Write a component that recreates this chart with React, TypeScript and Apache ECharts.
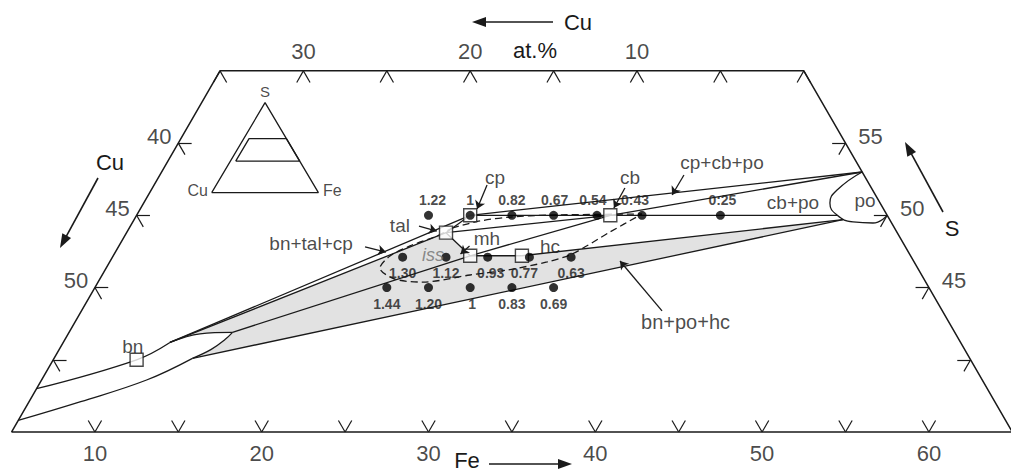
import React, { useEffect, useRef } from "react";
import * as echarts from "echarts";

const INK = "#1a1a1a";
const GRAY = "#e2e2e2";
const FONT = "'Liberation Sans', Arial, Helvetica, sans-serif";

// All compositions are [Fe at.%, S at.%]  (Cu = 100 - Fe - S)
const frame = [[5, 35], [5, 60], [40, 60], [65, 35], [5, 35]];

const phaseNames = ["bn", "tal", "cp", "mh", "hc", "cb"];
const phaseFe = [10, 24.15, 25, 26.4, 29.5, 33.4];
const phaseS = [40, 48.8, 50, 47.2, 47.2, 50];

const row1Fe = [22.5, 25, 27.5, 30, 32.6, 35.3, 40];
const row1S = 50;
const row1Labels = ["1.22", "1", "0.82", "0.67", "0.54", "0:43", "0:25"];
const row1Dx = [4, 0, 0, 1, -4, -7, 2];
const row2Fe = [22.4, 25, 27.5, 30, 32.5];
const row2S = 47.1;
const row2Labels = ["1.30", "1.12", "0.93", "0.77", "0.63"];
const row2Dx = [0, 0, 3, -5, 0];
const row3Fe = [22.5, 25, 27.5, 30, 32.5];
const row3S = 45;
const row3Labels = ["1.44", "1.20", "1", "0.83", "0.69"];
const row3Dx = [0, 0, 2, 0, 0];

const bottomFeLabels = [10, 20, 30, 40, 50, 60];
const topCuLabels = [30, 20, 10];
const leftCuLabels = [40, 45, 50];
const rightSLabels = [55, 50, 45];
const bottomTickFe = [10, 15, 20, 25, 30, 35, 40, 45, 50, 55, 60];
const topTickCu = [35, 30, 25, 20, 15, 10, 5, 0];
const leftTickCu = [40, 45, 50, 55];
const rightTickS = [55, 50, 45, 40];
const TICK = 0.8;

// key construction points
const ptA = [11.4, 41.2];
const lensTip = [14.8, 41.9];
const lensLow = [13.3, 40.1];
const poTop = [47, 53];
const poLow = [47.5, 49.7];
const row1End = [47, 50];

const bnUpper = [[5, 38.0], [10, 40], [11.4, 41.2]];
const lowerCurve = [[5, 35.8], [8.1, 37.1], [11.3, 38.6], [13.3, 40.1]];
const lensRight = [[13.3, 40.1], [14.1, 40.7], [14.6, 41.4], [14.8, 41.9]];
const lensTop = [[11.4, 41.2], [12.9, 41.8], [14.8, 41.9]];
const poLoop = [[47, 53], [46.12, 51.75], [46.14, 50.85], [46.98, 50.02], [48.18, 49.54], [49.41, 49.47], [50, 50]];
const issLoop = [
  [24.35, 49.12], [25.79, 49.61], [27.45, 49.88], [29.77, 50.02], [35.25, 50.09],
  [33.96, 48.85], [32.44, 47.32], [31.22, 46.77], [29.1, 46.21], [27.06, 45.87],
  [24.48, 45.38], [22.69, 45.59], [21.41, 46.35], [21.6, 47.18], [22.45, 47.88],
  [23.73, 48.57], [24.35, 49.12],
];

const annText = ["bn", "tal", "cp", "mh", "hc", "cb", "iss", "bn+tal+cp", "cp+cb+po", "cb+po", "po", "bn+po+hc"];
const annFe = [9.3, 21.12, 25.16, 26.79, 30.88, 33.25, 24.15, 16.42, 38.25, 43.89, 48.14, 41.6];
const annS = [40.95, 49.33, 52.65, 48.43, 47.81, 52.65, 47.25, 48.08, 53.69, 50.92, 51.06, 42.62];

const arrowFrom = [[24.96, 52.1], [33.33, 51.89], [22.3, 49.26], [26.02, 47.88], [19.79, 47.81], [36.42, 52.79], [39.81, 43.38]];
const arrowTo = [[25.19, 50.44], [33.36, 50.51], [23.54, 48.91], [25.76, 47.32], [21.22, 47.46], [36.4, 51.41], [35.56, 46.84]];

// ternary -> cartesian (equilateral): x = Fe + S/2, y = S
const P = (p: number[]) => [p[0] + p[1] / 2, p[1]];

function App() {
  const ref = useRef<HTMLDivElement>(null);
  useEffect(() => {
    if (!ref.current) return;
    const chart = echarts.init(ref.current, undefined, { renderer: "svg" });
    const ph = (name: string) => {
      const i = phaseNames.indexOf(name);
      return [phaseFe[i], phaseS[i]];
    };
    const bn = ph("bn"), tal = ph("tal"), cp = ph("cp"), mh = ph("mh"), hc = ph("hc"), cb = ph("cb");

    const lineSeries = (pts: number[][], opt: any = {}) => ({
      type: "line",
      xAxisIndex: opt.grid || 0,
      yAxisIndex: opt.grid || 0,
      data: pts.map(P),
      showSymbol: false,
      symbol: "none",
      smooth: opt.smooth || false,
      lineStyle: { color: INK, width: opt.width || 1.3, type: opt.type || "solid" },
      z: 3,
      silent: true,
      clip: false,
    });

    const ties = [
      [ptA, tal], [ptA, cp], [tal, cp], [tal, cb], [tal, mh], [mh, hc], [mh, cb],
      [lensTip, mh], [hc, poLow], [lensLow, poLow], [cp, row1End], [cp, poTop], [cb, poTop],
    ];

    const ticks: number[][][] = [];
    bottomTickFe.forEach((fe) => {
      ticks.push([[fe, 35], [fe, 35 + TICK]]);
      ticks.push([[fe, 35], [fe - TICK, 35 + TICK]]);
    });
    topTickCu.forEach((cu) => {
      const fe = 40 - cu;
      ticks.push([[fe, 60], [fe, 60 - TICK]]);
      ticks.push([[fe, 60], [fe + TICK, 60 - TICK]]);
    });
    leftTickCu.forEach((cu) => {
      const s = 95 - cu;
      ticks.push([[5, s], [5 + TICK, s]]);
      ticks.push([[5, s], [5 + TICK, s - TICK]]);
    });
    rightTickS.forEach((s) => {
      const fe = 100 - s;
      ticks.push([[fe, s], [fe - TICK, s]]);
      ticks.push([[fe, s], [fe, s - TICK]]);
    });

    type Lab = { pos: number[]; text: string; off: number[]; size?: number; bold?: boolean; italic?: boolean; color?: string };
    const labelSeries = (items: Lab[], grid = 0) => ({
      type: "scatter",
      xAxisIndex: grid,
      yAxisIndex: grid,
      symbolSize: 1,
      itemStyle: { color: "rgba(0,0,0,0)" },
      silent: true,
      clip: false,
      z: 8,
      data: items.map((it) => ({
        value: P(it.pos),
        label: {
          show: true,
          position: "inside",
          formatter: it.text,
          offset: it.off,
          fontSize: it.size || 22,
          fontWeight: it.bold ? "bold" : "normal",
          fontStyle: it.italic ? "italic" : "normal",
          color: it.color || INK,
          fontFamily: FONT,
          align: "center",
          verticalAlign: "middle",
        },
      })),
    });

    const axisLabels: Lab[] = [
      ...bottomFeLabels.map((fe) => ({ pos: [fe, 35], text: String(fe), off: [0, 21] })),
      ...topCuLabels.map((cu) => ({ pos: [40 - cu, 60], text: String(cu), off: [0, -19] })),
      ...leftCuLabels.map((cu) => ({ pos: [5, 95 - cu], text: String(cu), off: [-19, -7] })),
      ...rightSLabels.map((s) => ({ pos: [100 - s, s], text: String(s), off: [25, -7] })),
    ];
    const dotLabels: Lab[] = [
      ...row1Fe.map((fe, i) => ({ pos: [fe, row1S], text: row1Labels[i], off: [row1Dx[i], -15], size: 14, bold: true })),
      ...row2Fe.map((fe, i) => ({ pos: [fe, row2S], text: row2Labels[i], off: [row2Dx[i], 16], size: 14, bold: true })),
      ...row3Fe.map((fe, i) => ({ pos: [fe, row3S], text: row3Labels[i], off: [row3Dx[i], 16], size: 14, bold: true })),
    ];
    const annLabels: Lab[] = annText.map((t, i) => ({
      pos: [annFe[i], annS[i]],
      text: t,
      off: [0, 0],
      size: t === "iss" ? 18 : t === "bn+po+hc" ? 20 : 19,
      italic: t === "iss",
      color: t === "iss" ? "#707070" : INK,
    }));
    const insetLabels: Lab[] = [
      { pos: [0, 100], text: "S", off: [0, -11], size: 15 },
      { pos: [0, 0], text: "Cu", off: [-14, -2], size: 16 },
      { pos: [100, 0], text: "Fe", off: [14, -2], size: 16 },
    ];

    const dots = [
      ...row1Fe.map((fe) => P([fe, row1S])),
      ...row2Fe.map((fe) => P([fe, row2S])),
      ...row3Fe.map((fe) => P([fe, row3S])),
    ];

    const grayRegion = [ptA, tal, mh, hc, poLow, lensLow, [14.1, 40.7], [14.6, 41.4], lensTip, [12.9, 41.8], ptA];

    const gArrow = (x1: number, y1: number, x2: number, y2: number, head = 14, w = 5) => {
      const dx = x2 - x1, dy = y2 - y1, L = Math.hypot(dx, dy);
      const ux = dx / L, uy = dy / L;
      const bx = x2 - ux * head, by = y2 - uy * head;
      return [
        { type: "line", shape: { x1, y1, x2: bx + ux * 2, y2: by + uy * 2 }, style: { stroke: INK, lineWidth: 1.6 }, z: 10 },
        { type: "polygon", shape: { points: [[x2, y2], [bx - uy * w, by + ux * w], [bx + uy * w, by - ux * w]] }, style: { fill: INK }, z: 10 },
      ];
    };
    const gText = (text: string, x: number, y: number, size = 22) => ({
      type: "text",
      x,
      y,
      z: 10,
      style: {
        text,
        fontSize: size,
        fontFamily: FONT,
        fill: INK,
        align: "center",
        verticalAlign: "middle",
        textAlign: "center",
        textVerticalAlign: "middle",
      },
    });

    chart.setOption({
      animation: false,
      backgroundColor: "#ffffff",
      grid: [
        { left: 0, top: 0, width: 1011, height: 472 },
        { left: 211.7, top: 102.7, width: 106.7, height: 90 },
      ],
      xAxis: [
        { type: "value", gridIndex: 0, min: 21.81055, max: 82.422, show: false },
        { type: "value", gridIndex: 1, min: 0, max: 100, show: false },
      ],
      yAxis: [
        { type: "value", gridIndex: 0, min: 32.2309, max: 64.9065, show: false },
        { type: "value", gridIndex: 1, min: 0, max: 100, show: false },
      ],
      graphic: [
        ...gArrow(553, 22, 472, 22),
        gText("Cu", 578, 22),
        gText("at.%", 535, 50),
        ...gArrow(98, 178, 60, 248),
        gText("Cu", 110, 162),
        ...gArrow(943, 212, 905, 142),
        gText("S", 952, 228),
        ...gArrow(489, 464, 572, 464),
        gText("Fe", 467, 460),
      ],
      series: [
        {
          type: "custom",
          xAxisIndex: 0,
          yAxisIndex: 0,
          data: [[50, 50]],
          silent: true,
          clip: false,
          z: 1,
          renderItem: (_p: any, api: any) => ({
            type: "polygon",
            shape: { points: grayRegion.map((p) => api.coord(P(p))) },
            style: { fill: GRAY, stroke: "none" },
          }),
        },
        lineSeries(frame, { width: 1.5 }),
        lineSeries(bnUpper, { smooth: 0.4 }),
        lineSeries(lowerCurve, { smooth: 0.4 }),
        lineSeries(lensRight, { smooth: 0.4 }),
        lineSeries(lensTop, { smooth: 0.4 }),
        lineSeries(poLoop, { smooth: 0.5 }),
        lineSeries(issLoop, { smooth: 0.3, type: [7, 4] }),
        ...ties.map((t) => lineSeries(t)),
        {
          type: "lines",
          coordinateSystem: "cartesian2d",
          xAxisIndex: 0,
          yAxisIndex: 0,
          silent: true,
          z: 3,
          lineStyle: { color: INK, width: 1.2, opacity: 1 },
          data: ticks.map(([a, b]) => ({ coords: [P(a), P(b)] })),
        },
        {
          type: "lines",
          coordinateSystem: "cartesian2d",
          xAxisIndex: 0,
          yAxisIndex: 0,
          silent: true,
          z: 9,
          symbol: ["none", "arrow"],
          symbolSize: 8,
          lineStyle: { color: INK, width: 1.3, opacity: 1 },
          itemStyle: { color: INK },
          data: arrowFrom.map((a, i) => ({ coords: [P(a), P(arrowTo[i])] })),
        },
        {
          type: "scatter",
          xAxisIndex: 0,
          yAxisIndex: 0,
          symbol: "rect",
          symbolSize: 13,
          silent: true,
          z: 5,
          itemStyle: { color: "#ffffff", borderColor: INK, borderWidth: 1.4 },
          data: [bn, tal, cp, mh, hc, cb].map(P),
        },
        {
          type: "scatter",
          xAxisIndex: 0,
          yAxisIndex: 0,
          symbol: "circle",
          symbolSize: 9,
          silent: true,
          z: 6,
          itemStyle: { color: "#000000" },
          data: dots,
        },
        // inset triangle
        lineSeries([[0, 0], [100, 0], [0, 100], [0, 0]], { grid: 1, width: 1.3 }),
        lineSeries(frame, { grid: 1, width: 1.3 }),
        labelSeries(axisLabels),
        labelSeries(dotLabels),
        labelSeries(annLabels),
        labelSeries(insetLabels, 1),
      ],
    });
    return () => chart.dispose();
  }, []);
  return <div ref={ref} style={{ position: "absolute", left: 0, top: 0, width: 1011, height: 472 }} />;
}

export default App;
